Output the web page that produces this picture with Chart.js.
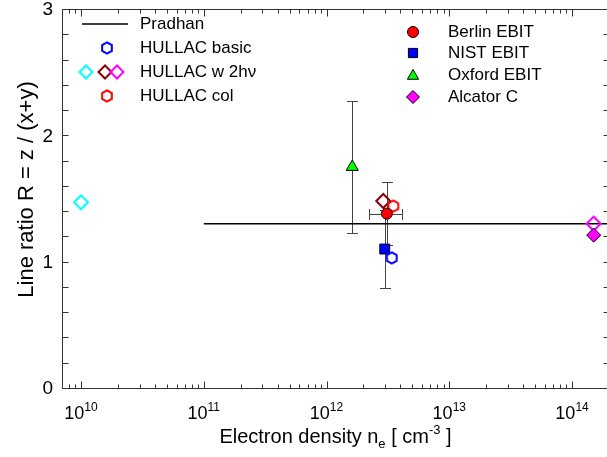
<!DOCTYPE html>
<html><head><meta charset="utf-8">
<script src="https://cdn.jsdelivr.net/npm/chart.js@4/dist/chart.umd.min.js"></script>
<style>
html,body{margin:0;padding:0;overflow:hidden;background:#fff;width:607px;height:457px}
#wrap{position:absolute;left:0;top:0;width:618px;height:457px}
</style>
</head><body><div id="wrap"><canvas id="c" width="618" height="457"></canvas></div>
<script>
// ---- data ----
const xMajorTicks = [1e10, 1e11, 1e12, 1e13, 1e14];
const xTickExponents = ['10', '11', '12', '13', '14'];
const yTickValues = [0, 1, 2, 3];
const yTickLabels = ['0', '1', '2', '3'];

const pradhanX = [1e11, 2e14];
const pradhanY = [1.30, 1.30];
const hullacBasicX = [3.4e12];
const hullacBasicY = [1.03];
const hullac2hvCyanX = [1e10];
const hullac2hvCyanY = [1.47];
const hullac2hvBrownX = [2.9e12];
const hullac2hvBrownY = [1.48];
const hullac2hvMagentaX = [1.5e14];
const hullac2hvMagentaY = [1.30];
const hullacColX = [3.5e12];
const hullacColY = [1.44];
const berlinX = [3.1e12];
const berlinY = [1.38];
const berlinYErr = [0.25];
const berlinXLow = [2.2e12];
const berlinXHigh = [4.1e12];
const nistX = [2.98e12];
const nistY = [1.10];
const nistYErr = [0.31];
const oxfordX = [1.62e12];
const oxfordY = [1.75];
const oxfordYErr = [0.52];
const alcatorX = [1.5e14];
const alcatorY = [1.21];

const FONT = '"Liberation Sans", Arial, sans-serif';
const pts = (xs, ys) => xs.map((x, i) => ({x: x, y: ys[i]}));

function hexImage(color) {
  const c = document.createElement('canvas');
  c.width = 18; c.height = 18;
  const g = c.getContext('2d');
  hexPath(g, 9, 9, 5.6);
  g.strokeStyle = color; g.lineWidth = 2; g.stroke();
  return c;
}
function hexPath(g, x, y, r) {
  g.beginPath();
  for (let k = 0; k < 6; k++) {
    const a = -Math.PI / 2 + k * Math.PI / 3;
    const px = x + r * Math.cos(a), py = y + r * Math.sin(a);
    if (k === 0) g.moveTo(px, py); else g.lineTo(px, py);
  }
  g.closePath();
}
const hexBlue = hexImage('#0000ff');
const hexRed = hexImage('#ff0000');

const errorBars = [
  {x: oxfordX, y: oxfordY, yErr: oxfordYErr},
  {x: nistX, y: nistY, yErr: nistYErr},
  {x: berlinX, y: berlinY, yErr: berlinYErr, xLow: berlinXLow, xHigh: berlinXHigh}
];

const errorPlugin = {
  id: 'errs',
  beforeDatasetsDraw(chart) {
    const g = chart.ctx, xs = chart.scales.x, ys = chart.scales.y;
    g.save();
    g.strokeStyle = '#444'; g.lineWidth = 1;
    const cap = 5.5;
    errorBars.forEach(e => {
      e.x.forEach((xv, i) => {
        const px = Math.round(xs.getPixelForValue(xv)) + 0.5;
        const py = ys.getPixelForValue(e.y[i]);
        const t = Math.round(ys.getPixelForValue(e.y[i] + e.yErr[i])) + 0.5;
        const b = Math.round(ys.getPixelForValue(e.y[i] - e.yErr[i])) + 0.5;
        g.beginPath();
        g.moveTo(px, t); g.lineTo(px, b);
        g.moveTo(px - cap, t); g.lineTo(px + cap, t);
        g.moveTo(px - cap, b); g.lineTo(px + cap, b);
        if (e.xLow) {
          const l = Math.round(xs.getPixelForValue(e.xLow[i])) + 0.5;
          const r = Math.round(xs.getPixelForValue(e.xHigh[i])) + 0.5;
          const pyr = Math.round(py) + 0.5;
          g.moveTo(l, pyr); g.lineTo(r, pyr);
          g.moveTo(l, pyr - cap); g.lineTo(l, pyr + cap);
          g.moveTo(r, pyr - cap); g.lineTo(r, pyr + cap);
        }
        g.stroke();
      });
    });
    g.restore();
  }
};

function drawSym(g, kind, x, y, fill, stroke, r) {
  g.save();
  g.beginPath();
  if (kind === 'circle') g.arc(x, y, r, 0, Math.PI * 2);
  else if (kind === 'rect') { const s = r * Math.SQRT1_2; g.rect(x - s, y - s, 2 * s, 2 * s); }
  else if (kind === 'triangle') {
    g.moveTo(x, y - r); g.lineTo(x + r * 0.866, y + r * 0.5); g.lineTo(x - r * 0.866, y + r * 0.5); g.closePath();
  } else if (kind === 'diamond') {
    g.moveTo(x, y - r); g.lineTo(x + r, y); g.lineTo(x, y + r); g.lineTo(x - r, y); g.closePath();
  } else if (kind === 'hex') { hexPath(g, x, y, r); }
  if (fill) { g.fillStyle = fill; g.fill(); }
  g.strokeStyle = stroke.c; g.lineWidth = stroke.w; g.stroke();
  g.restore();
}

function supText(g, parts, x, y, align) {
  let w = 0;
  parts.forEach(p => { g.font = p.size + 'px ' + FONT; p.w = g.measureText(p.t).width; w += p.w; });
  let cx = align === 'center' ? x - w / 2 : x;
  parts.forEach(p => { g.font = p.size + 'px ' + FONT; g.fillText(p.t, cx, y + (p.dy || 0)); cx += p.w; });
}

const framePlugin = {
  id: 'frame',
  afterDraw(chart) {
    const g = chart.ctx, xs = chart.scales.x, ys = chart.scales.y, a = chart.chartArea;
    const L = Math.round(a.left) + 0.5, R = Math.round(a.right) + 0.5, T = Math.round(a.top) + 0.5, B = Math.round(a.bottom) + 0.5;
    g.save();
    g.strokeStyle = '#333'; g.lineWidth = 1;
    g.beginPath();
    g.rect(L, T, R - L, B - T);
    for (let d = 9; d <= 14; d++) {
      for (let m = 1; m <= 9; m++) {
        const v = m * Math.pow(10, d);
        if (v < xs.min || v > xs.max) continue;
        const px = Math.round(xs.getPixelForValue(v)) + 0.5;
        const len = m === 1 ? 7 : 4;
        g.moveTo(px, B); g.lineTo(px, B - len);
        g.moveTo(px, T); g.lineTo(px, T + len);
      }
    }
    for (let k = 0; k <= 15; k++) {
      const v = k * 0.2;
      const py = Math.round(ys.getPixelForValue(v)) + 0.5;
      g.moveTo(L, py); g.lineTo(L + 6, py);
      g.moveTo(R, py); g.lineTo(R - 6, py);
    }
    g.stroke();

    g.fillStyle = '#000';
    g.font = '19px ' + FONT; g.textAlign = 'right'; g.textBaseline = 'middle';
    yTickValues.forEach((v, i) => g.fillText(yTickLabels[i], 53, ys.getPixelForValue(v) + 1));
    g.textAlign = 'left'; g.textBaseline = 'alphabetic';
    xMajorTicks.forEach((v, i) => {
      supText(g, [{t: '10', size: 18}, {t: xTickExponents[i], size: 12, dy: -8}], xs.getPixelForValue(v), 419, 'center');
    });
    supText(g, [
      {t: 'Electron density n', size: 20},
      {t: 'e', size: 13, dy: 5},
      {t: ' [ cm', size: 20},
      {t: '-3', size: 13, dy: -9},
      {t: ' ]', size: 20}
    ], (a.left + a.right) / 2, 443, 'center');
    g.save();
    g.translate(27, (a.top + a.bottom) / 2 - 9);
    g.rotate(-Math.PI / 2);
    g.font = '22px ' + FONT; g.textAlign = 'center'; g.textBaseline = 'middle';
    g.fillText('Line ratio R = z / (x+y)', 0, 0);
    g.restore();

    g.font = '17px ' + FONT; g.textBaseline = 'middle'; g.textAlign = 'left';
    g.beginPath(); g.strokeStyle = '#000'; g.lineWidth = 1.5;
    g.moveTo(82, 24); g.lineTo(128, 24); g.stroke();
    g.fillText('Pradhan', 140, 24);
    drawSym(g, 'hex', 107, 48, null, {c: '#0000ff', w: 2}, 5.6);
    g.fillText('HULLAC basic', 140, 48);
    drawSym(g, 'diamond', 86, 72, null, {c: '#00ffff', w: 2}, 6.5);
    drawSym(g, 'diamond', 105, 72, null, {c: '#8b0000', w: 2}, 6.5);
    drawSym(g, 'diamond', 117, 72, null, {c: '#ff00ff', w: 2}, 6.5);
    g.fillStyle = '#000';
    g.fillText('HULLAC w 2h\u03bd', 140, 72);
    drawSym(g, 'hex', 107, 96, null, {c: '#ff0000', w: 2}, 5.6);
    g.fillText('HULLAC col', 140, 96);

    drawSym(g, 'circle', 413, 32, '#ff0000', {c: '#000', w: 1}, 5.5);
    g.fillText('Berlin EBIT', 448, 32);
    drawSym(g, 'rect', 413, 53, '#0000ff', {c: '#000', w: 1}, 6.5);
    g.fillText('NIST EBIT', 448, 53);
    drawSym(g, 'triangle', 413, 76, '#00ff00', {c: '#000', w: 1}, 6.5);
    g.fillText('Oxford EBIT', 448, 75);
    drawSym(g, 'diamond', 413, 97, '#ff00ff', {c: '#000', w: 1}, 6.5);
    g.fillText('Alcator C', 448, 97);
    g.restore();
  }
};

new Chart(document.getElementById('c'), {
  type: 'scatter',
  data: {
    datasets: [
      {label: 'Berlin EBIT', data: pts(berlinX, berlinY), pointStyle: 'circle', pointRadius: 5.5, backgroundColor: '#ff0000', borderColor: '#000', borderWidth: 1, order: 1},
      {label: 'HULLAC col', data: pts(hullacColX, hullacColY), pointStyle: hexRed, order: 2},
      {label: 'HULLAC basic', data: pts(hullacBasicX, hullacBasicY), pointStyle: hexBlue, order: 3},
      {label: 'NIST EBIT', data: pts(nistX, nistY), pointStyle: 'rect', pointRadius: 7, backgroundColor: '#0000ff', borderColor: '#000', borderWidth: 1, order: 4},
      {label: 'Oxford EBIT', data: pts(oxfordX, oxfordY), pointStyle: 'triangle', pointRadius: 7, backgroundColor: '#00ff00', borderColor: '#000', borderWidth: 1, order: 1},
      {label: 'Alcator C', data: pts(alcatorX, alcatorY), pointStyle: 'rectRot', pointRadius: 7, backgroundColor: '#ff00ff', borderColor: '#000', borderWidth: 1, order: 1},
      {label: 'HULLAC w 2hv cyan', data: pts(hullac2hvCyanX, hullac2hvCyanY), pointStyle: 'rectRot', pointRadius: 7, backgroundColor: 'rgba(0,0,0,0)', borderColor: '#00ffff', borderWidth: 2, order: 5},
      {label: 'HULLAC w 2hv brown', data: pts(hullac2hvBrownX, hullac2hvBrownY), pointStyle: 'rectRot', pointRadius: 7, backgroundColor: 'rgba(0,0,0,0)', borderColor: '#8b0000', borderWidth: 2, order: 5},
      {label: 'HULLAC w 2hv magenta', data: pts(hullac2hvMagentaX, hullac2hvMagentaY), pointStyle: 'rectRot', pointRadius: 7, backgroundColor: 'rgba(0,0,0,0)', borderColor: '#ff00ff', borderWidth: 2, order: 5},
      {type: 'line', label: 'Pradhan', data: pts(pradhanX, pradhanY), borderColor: '#000', borderWidth: 1.6, pointRadius: 0, fill: false, order: 10}
    ]
  },
  options: {
    responsive: false,
    animation: false,
    events: [],
    layout: {padding: {left: 0, right: 3, top: 7, bottom: 0}},
    plugins: {legend: {display: false}, tooltip: {enabled: false}},
    scales: {
      x: {
        type: 'logarithmic', min: 7e9, max: 2e14,
        grid: {display: false}, border: {display: false},
        ticks: {display: false},
        afterFit(s) { s.height = 69; }
      },
      y: {
        type: 'linear', min: 0, max: 3,
        grid: {display: false}, border: {display: false},
        ticks: {display: false},
        afterFit(s) { s.width = 62; }
      }
    }
  },
  plugins: [errorPlugin, framePlugin]
});
</script>
</body></html>
